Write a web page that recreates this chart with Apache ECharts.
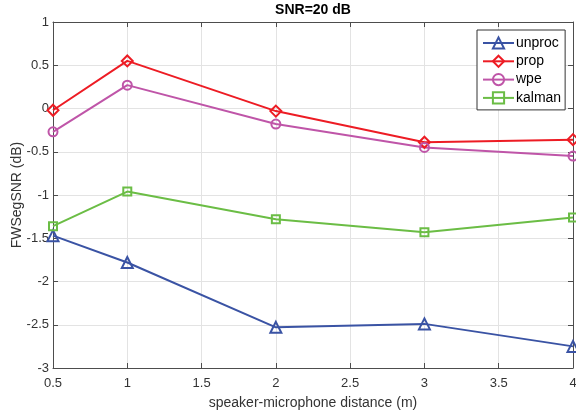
<!DOCTYPE html>
<html>
<head>
<meta charset="utf-8">
<script src="https://cdn.jsdelivr.net/npm/echarts@6/dist/echarts.min.js"></script>
<style>
html, body { margin: 0; padding: 0; background: #fff; }
#main { width: 576px; height: 413px; }
</style>
</head>
<body>
<div id="main"></div>
<script>
// distances (m)
var distances = [0.5, 1, 2, 3, 4];
var unproc = [-1.47, -1.78, -2.53, -2.49, -2.75];
var prop   = [-0.02, 0.55, -0.03, -0.39, -0.36];
var wpe    = [-0.27, 0.27, -0.18, -0.45, -0.55];
var kalman = [-1.36, -0.96, -1.28, -1.43, -1.26];

(function () {
    var myChart = echarts.init(document.getElementById('main'));
    var font = 'Liberation Sans, Arial, sans-serif';
    var axisCol = '#4d4d4d';

    function pairs(vals) {
        return distances.map(function (d, i) { return [d, vals[i]]; });
    }
    function mk(name, vals, color, symbol, size) {
        return {
            name: name,
            type: 'line',
            data: pairs(vals),
            symbol: symbol,
            symbolSize: size,
            color: color,
            lineStyle: { color: color, width: 2 },
            itemStyle: { color: 'rgba(255,255,255,0)', borderColor: color, borderWidth: 2 },
            animation: false
        };
    }

    var option = {
        animation: false,
        title: {
            text: 'SNR=20 dB',
            left: 313,
            textAlign: 'center',
            top: 3,
            padding: 0,
            textStyle: { fontFamily: font, fontSize: 14, fontWeight: 'bold', color: '#000' }
        },
        legend: {
            orient: 'vertical',
            left: 477,
            top: 30,
            padding: [6, 4, 5, 5],
            itemGap: 4.3,
            itemWidth: 31,
            itemHeight: 14,
            backgroundColor: '#fff',
            borderColor: '#333',
            borderWidth: 1,
            borderRadius: 0,
            textStyle: { fontFamily: font, fontSize: 14, color: '#000', padding: [0, 0, 0, -3] },
            data: ['unproc', 'prop', 'wpe', 'kalman']
        },
        grid: { left: 53, right: 3, top: 22, bottom: 45, containLabel: false, outerBoundsMode: 'none' },
        xAxis: [{
            type: 'value',
            min: 0.5, max: 4, interval: 0.5,
            name: 'speaker-microphone distance (m)',
            nameLocation: 'middle',
            nameGap: 28,
            nameMoveOverlap: false,
            nameTextStyle: { fontFamily: font, fontSize: 14, color: '#333' },
            axisLine: { onZero: false, lineStyle: { color: axisCol } },
            axisTick: { inside: true, length: 5, lineStyle: { color: axisCol } },
            axisLabel: { fontFamily: font, fontSize: 13, color: '#333', margin: 9 },
            splitLine: { show: true, lineStyle: { color: '#e3e3e3' } }
        }, {
            type: 'value', position: 'top',
            min: 0.5, max: 4, interval: 0.5,
            axisLine: { show: true, onZero: false, lineStyle: { color: axisCol } },
            axisTick: { show: true, inside: true, length: 5, lineStyle: { color: axisCol } },
            axisLabel: { show: false },
            splitLine: { show: false }
        }],
        yAxis: [{
            type: 'value',
            min: -3, max: 1, interval: 0.5,
            name: 'FWSegSNR (dB)',
            nameLocation: 'middle',
            nameGap: 29,
            nameMoveOverlap: false,
            nameTextStyle: { fontFamily: font, fontSize: 14, color: '#333' },
            axisLine: { show: true, onZero: false, lineStyle: { color: axisCol } },
            axisTick: { show: true, inside: true, length: 5, lineStyle: { color: axisCol } },
            axisLabel: { fontFamily: font, fontSize: 13, color: '#333', margin: 4 },
            splitLine: { show: true, lineStyle: { color: '#e3e3e3' } }
        }, {
            type: 'value', position: 'right',
            min: -3, max: 1, interval: 0.5,
            axisLine: { show: true, onZero: false, lineStyle: { color: axisCol } },
            axisTick: { show: true, inside: true, length: 5, lineStyle: { color: axisCol } },
            axisLabel: { show: false },
            splitLine: { show: false }
        }],
        series: [
            mk('unproc', unproc, '#3a53a4', 'triangle', 11),
            mk('prop', prop, '#ed1c24', 'diamond', 11),
            mk('wpe', wpe, '#bf55a8', 'circle', 9),
            mk('kalman', kalman, '#6bbd45', 'rect', 8)
        ]
    };

    myChart.setOption(option);
})();
</script>
</body>
</html>
